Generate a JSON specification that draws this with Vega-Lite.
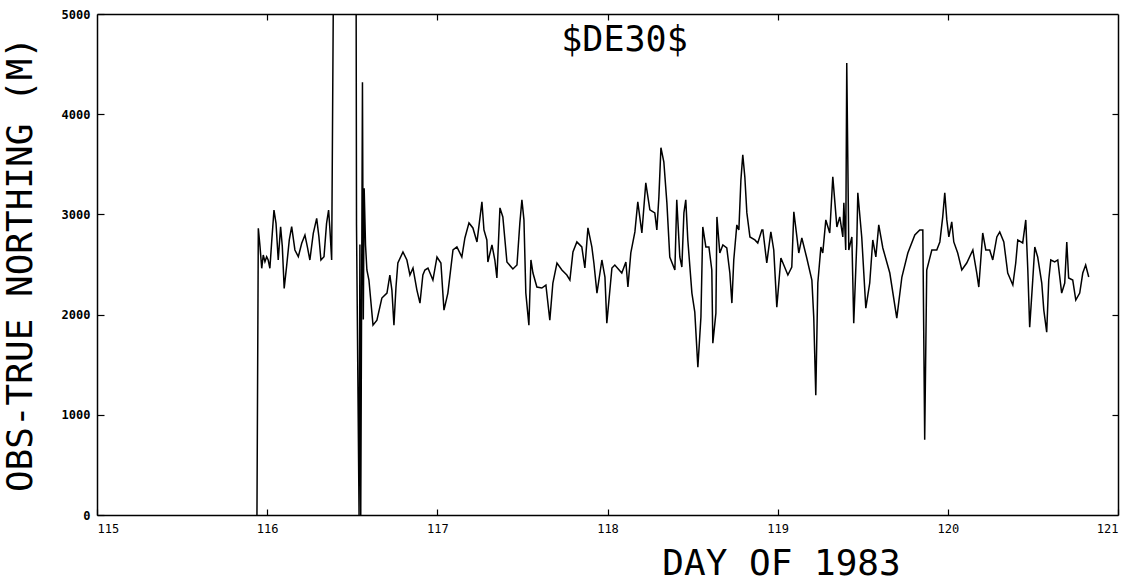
{
  "$schema": "https://vega.github.io/schema/vega-lite/v6.json",
  "width": 1021,
  "height": 501,
  "autosize": {"type": "none"},
  "padding": {"left": 97, "top": 14, "right": 24, "bottom": 66},
  "background": "white",
  "config": {
    "view": {"stroke": null},
    "axis": {
      "domainColor": "black", "domainWidth": 1.5, "tickColor": "black", "tickWidth": 1.2,
      "labelFont": "DejaVu Sans Mono", "labelFontSize": 12, "labelFontWeight": "bold", "labelColor": "black",
      "titleFont": "DejaVu Sans Mono", "titleFontSize": 36, "titleFontWeight": "normal", "titleColor": "black",
      "grid": false
    }
  },
  "datasets": {"obs": [
    {"day":115.940,"m":0},{"day":115.948,"m":2861},{"day":115.958,"m":2678},{"day":115.968,"m":2462},{"day":115.977,"m":2595},
    {"day":115.987,"m":2528},{"day":115.997,"m":2578},{"day":116.006,"m":2545},{"day":116.016,"m":2462},{"day":116.026,"m":2712},
    {"day":116.040,"m":3044},{"day":116.052,"m":2911},{"day":116.065,"m":2545},{"day":116.079,"m":2877},{"day":116.089,"m":2678},
    {"day":116.100,"m":2262},{"day":116.114,"m":2478},{"day":116.130,"m":2745},{"day":116.144,"m":2877},{"day":116.163,"m":2645},
    {"day":116.183,"m":2578},{"day":116.203,"m":2712},{"day":116.222,"m":2794},{"day":116.236,"m":2678},{"day":116.251,"m":2545},
    {"day":116.271,"m":2811},{"day":116.291,"m":2961},{"day":116.304,"m":2778},{"day":116.316,"m":2545},{"day":116.334,"m":2578},
    {"day":116.349,"m":2911},{"day":116.361,"m":3044},{"day":116.369,"m":2844},{"day":116.379,"m":2545},
    {"day":116.392,"m":6000},{"day":116.522,"m":6000},
    {"day":116.525,"m":2900},{"day":116.540,"m":0},{"day":116.545,"m":2700},{"day":116.550,"m":0},{"day":116.560,"m":4320},
    {"day":116.565,"m":1950},{"day":116.570,"m":3260},{"day":116.578,"m":2695},
    {"day":116.586,"m":2445},{"day":116.598,"m":2345},{"day":116.622,"m":1895},{"day":116.645,"m":1945},{"day":116.674,"m":2165},
    {"day":116.704,"m":2215},{"day":116.721,"m":2395},{"day":116.733,"m":2245},{"day":116.745,"m":1895},{"day":116.757,"m":2275},
    {"day":116.768,"m":2515},{"day":116.798,"m":2625},{"day":116.821,"m":2545},{"day":116.839,"m":2395},{"day":116.857,"m":2465},
    {"day":116.880,"m":2245},{"day":116.898,"m":2115},{"day":116.915,"m":2395},{"day":116.927,"m":2445},{"day":116.945,"m":2465},
    {"day":116.974,"m":2345},{"day":116.998,"m":2575},{"day":117.021,"m":2515},{"day":117.039,"m":2045},{"day":117.062,"m":2215},
    {"day":117.092,"m":2645},{"day":117.115,"m":2675},{"day":117.144,"m":2575},{"day":117.162,"m":2765},{"day":117.186,"m":2915},
    {"day":117.209,"m":2865},{"day":117.233,"m":2725},{"day":117.262,"m":3125},{"day":117.274,"m":2845},{"day":117.291,"m":2745},
    {"day":117.297,"m":2525},{"day":117.321,"m":2695},{"day":117.338,"m":2545},{"day":117.350,"m":2365},{"day":117.368,"m":3065},
    {"day":117.385,"m":2975},{"day":117.409,"m":2525},{"day":117.444,"m":2455},{"day":117.468,"m":2495},{"day":117.485,"m":2915},
    {"day":117.497,"m":3145},{"day":117.509,"m":2945},{"day":117.520,"m":2215},{"day":117.538,"m":1895},{"day":117.550,"m":2545},
    {"day":117.562,"m":2415},{"day":117.585,"m":2275},{"day":117.614,"m":2265},{"day":117.638,"m":2295},{"day":117.661,"m":1945},
    {"day":117.679,"m":2315},{"day":117.703,"m":2515},{"day":117.732,"m":2445},{"day":117.761,"m":2395},{"day":117.779,"m":2345},
    {"day":117.797,"m":2625},{"day":117.820,"m":2725},{"day":117.849,"m":2675},{"day":117.867,"m":2465},{"day":117.885,"m":2865},
    {"day":117.908,"m":2675},{"day":117.920,"m":2515},{"day":117.938,"m":2215},{"day":117.967,"m":2545},{"day":117.985,"m":2375},
    {"day":117.996,"m":1915},{"day":118.026,"m":2465},{"day":118.043,"m":2495},{"day":118.084,"m":2415},{"day":118.108,"m":2525},
    {"day":118.120,"m":2275},{"day":118.137,"m":2615},{"day":118.161,"m":2825},{"day":118.178,"m":3125},{"day":118.202,"m":2815},
    {"day":118.225,"m":3315},{"day":118.249,"m":3045},{"day":118.278,"m":3015},{"day":118.290,"m":2845},{"day":118.302,"m":3175},
    {"day":118.314,"m":3665},{"day":118.331,"m":3525},{"day":118.349,"m":3115},{"day":118.366,"m":2575},{"day":118.396,"m":2445},
    {"day":118.407,"m":3145},{"day":118.425,"m":2575},{"day":118.437,"m":2475},{"day":118.449,"m":3015},{"day":118.460,"m":3145},
    {"day":118.472,"m":2745},{"day":118.496,"m":2215},{"day":118.513,"m":2025},{"day":118.531,"m":1475},{"day":118.549,"m":1975},
    {"day":118.560,"m":2875},{"day":118.578,"m":2675},{"day":118.596,"m":2675},{"day":118.613,"m":2445},{"day":118.619,"m":1715},
    {"day":118.637,"m":2015},{"day":118.643,"m":2975},{"day":118.660,"m":2615},{"day":118.678,"m":2695},{"day":118.701,"m":2665},
    {"day":118.719,"m":2415},{"day":118.731,"m":2115},{"day":118.742,"m":2545},{"day":118.760,"m":2895},{"day":118.772,"m":2845},
    {"day":118.784,"m":3345},{"day":118.795,"m":3595},{"day":118.807,"m":3375},{"day":118.819,"m":3015},{"day":118.837,"m":2775},
    {"day":118.866,"m":2745},{"day":118.883,"m":2715},{"day":118.907,"m":2845},{"day":118.913,"m":2845},{"day":118.936,"m":2515},
    {"day":118.960,"m":2825},{"day":118.977,"m":2645},{"day":118.995,"m":2075},{"day":119.019,"m":2565},{"day":119.060,"m":2395},
    {"day":119.083,"m":2475},{"day":119.095,"m":3025},{"day":119.113,"m":2775},{"day":119.124,"m":2615},{"day":119.142,"m":2765},
    {"day":119.171,"m":2565},{"day":119.201,"m":2345},{"day":119.212,"m":1975},{"day":119.224,"m":1195},{"day":119.236,"m":2315},
    {"day":119.254,"m":2675},{"day":119.265,"m":2615},{"day":119.283,"m":2945},{"day":119.306,"m":2815},{"day":119.324,"m":3375},
    {"day":119.348,"m":2875},{"day":119.365,"m":2975},{"day":119.383,"m":2775},{"day":119.389,"m":3115},{"day":119.400,"m":2645},
    {"day":119.406,"m":4510},{"day":119.412,"m":3575},{"day":119.418,"m":2645},{"day":119.436,"m":2775},{"day":119.447,"m":1915},
    {"day":119.465,"m":2715},{"day":119.471,"m":3215},{"day":119.494,"m":2775},{"day":119.518,"m":2065},{"day":119.541,"m":2315},
    {"day":119.559,"m":2745},{"day":119.577,"m":2575},{"day":119.594,"m":2895},{"day":119.618,"m":2665},{"day":119.659,"m":2415},
    {"day":119.700,"m":1965},{"day":119.730,"m":2375},{"day":119.765,"m":2615},{"day":119.806,"m":2795},{"day":119.835,"m":2845},
    {"day":119.853,"m":2845},{"day":119.864,"m":750},{"day":119.876,"m":2445},{"day":119.906,"m":2645},{"day":119.935,"m":2645},
    {"day":119.953,"m":2725},{"day":119.970,"m":2975},{"day":119.982,"m":3215},{"day":119.994,"m":2945},{"day":120.006,"m":2775},
    {"day":120.023,"m":2925},{"day":120.035,"m":2725},{"day":120.058,"m":2615},{"day":120.082,"m":2445},{"day":120.111,"m":2515},
    {"day":120.147,"m":2645},{"day":120.170,"m":2415},{"day":120.182,"m":2275},{"day":120.205,"m":2815},{"day":120.223,"m":2645},
    {"day":120.246,"m":2645},{"day":120.264,"m":2545},{"day":120.288,"m":2775},{"day":120.305,"m":2825},{"day":120.329,"m":2725},
    {"day":120.352,"m":2415},{"day":120.382,"m":2295},{"day":120.399,"m":2515},{"day":120.411,"m":2745},{"day":120.440,"m":2715},
    {"day":120.458,"m":2945},{"day":120.470,"m":2445},{"day":120.481,"m":1875},{"day":120.499,"m":2345},{"day":120.511,"m":2675},
    {"day":120.528,"m":2575},{"day":120.552,"m":2315},{"day":120.564,"m":2045},{"day":120.581,"m":1825},{"day":120.593,"m":2345},
    {"day":120.605,"m":2545},{"day":120.628,"m":2525},{"day":120.646,"m":2545},{"day":120.669,"m":2215},{"day":120.687,"m":2315},
    {"day":120.699,"m":2725},{"day":120.710,"m":2365},{"day":120.734,"m":2345},{"day":120.752,"m":2145},{"day":120.775,"m":2215},
    {"day":120.793,"m":2415},{"day":120.810,"m":2495},{"day":120.828,"m":2375}
  ],
  "label": [{"name": "$DE30$", "day": 118.1, "m": 4740}]},
  "layer": [
    {
      "data": {"name": "obs"},
      "mark": {"type": "line", "color": "black", "strokeWidth": 1.5, "clip": true},
      "encoding": {
        "x": {"field": "day", "type": "quantitative", "scale": {"domain": [115, 121], "nice": false, "zero": false},
              "axis": {"orient": "bottom", "values": [115,116,117,118,119,120,121], "format": "d", "tickSize": -6, "labelPadding": 14, "labelFontWeight": "normal",
                       "title": "DAY OF 1983", "titleX": 684, "titleY": 48, "titleBaseline": "middle", "titleAnchor": "middle", "titleAlign": "center"}},
        "y": {"field": "m", "type": "quantitative", "scale": {"domain": [0, 5000], "nice": false},
              "axis": {"orient": "left", "values": [0,1000,2000,3000,4000,5000], "format": "d", "tickSize": -7, "labelPadding": 14,
                       "title": "OBS-TRUE NORTHING (M)", "titleX": -77, "titleY": 250, "titleBaseline": "middle", "titleAngle": -90, "titleAnchor": "middle", "titleAlign": "center"}}
      }
    },
    {
      "data": {"name": "obs"},
      "mark": {"type": "point", "opacity": 0},
      "encoding": {
        "x": {"field": "day", "type": "quantitative", "axis": {"orient": "top", "values": [116,117,118,119,120], "tickSize": -6, "labels": false, "title": null}},
        "y": {"field": "m", "type": "quantitative", "axis": {"orient": "right", "values": [1000,2000,3000,4000], "tickSize": -6, "labels": false, "title": null}}
      }
    },
    {
      "data": {"name": "label"},
      "mark": {"type": "text", "font": "DejaVu Sans Mono", "fontSize": 35, "color": "black", "align": "center", "baseline": "middle"},
      "encoding": {
        "x": {"field": "day", "type": "quantitative", "axis": null},
        "y": {"field": "m", "type": "quantitative", "axis": null},
        "text": {"field": "name"}
      }
    }
  ],
  "resolve": {"axis": {"x": "independent", "y": "independent"}}
}
